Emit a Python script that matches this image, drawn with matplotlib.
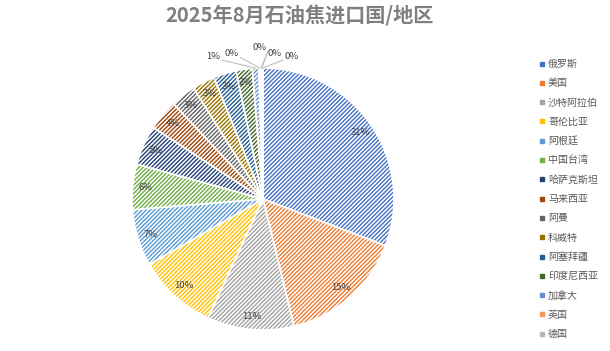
import matplotlib
matplotlib.use('Agg')
import matplotlib.pyplot as plt
from matplotlib.lines import Line2D
import numpy as np

plt.rcParams['font.family'] = ['Noto Sans CJK SC', 'DejaVu Sans']
plt.rcParams['hatch.linewidth'] = 1.1

title = '2025年8月石油焦进口国/地区'
categories = ['俄罗斯', '美国', '沙特阿拉伯', '哥伦比亚', '阿根廷', '中国台湾', '哈萨克斯坦',
              '马来西亚', '阿曼', '科威特', '阿塞拜疆', '印度尼西亚', '加拿大', '英国', '德国',
              '其他1', '其他2']
values = [30.8, 15.4, 10.7, 9.8, 7.0, 5.6, 4.9, 3.8, 3.1, 2.8, 2.8, 2.0, 0.8, 0.2, 0.1, 0.1, 0.1]
colors = ['#4472C4', '#ED7D31', '#A5A5A5', '#FFC000', '#5B9BD5', '#70AD47', '#264478',
          '#9E480E', '#636363', '#997300', '#255E91', '#43682B', '#698ED0', '#F1975A',
          '#B7B7B7', '#FFCD33', '#7CAFDD']
n_legend = 15

W, H, DPI = 610, 351, 100
cx, cy, R = 263, 199, 131  # pixel layout

fig = plt.figure(figsize=(W / DPI, H / DPI), dpi=DPI)
ax = fig.add_axes([0, 0, 1, 1])
ax.axis('off')

wedges, _ = ax.pie(values, colors=colors, startangle=90, counterclock=False,
                   radius=1.0, wedgeprops=dict(edgecolor='white', linewidth=1.2))
for w in wedges:
    w.set_hatch('////////')
ax.set_xlim(-cx / R, (W - cx) / R)
ax.set_ylim(-(H - cy) / R, cy / R)

total = sum(values)
pcts = [v / total * 100 for v in values]
small_label_xy = [(-0.38, 1.09), (-0.24, 1.11), (-0.03, 1.16), (0.09, 1.11), (0.22, 1.09)]
small_i = 0
lab_color = '#404040'
for w, p in zip(wedges, pcts):
    ang = np.deg2rad((w.theta1 + w.theta2) / 2)
    txt = f'{p:.0f}%'
    if p >= 1.5:
        r = 0.9
        ax.text(r * np.cos(ang), r * np.sin(ang), txt, ha='center', va='center',
                fontsize=6.8, color=lab_color)
    else:
        lx, ly = small_label_xy[small_i]
        small_i += 1
        ax.text(lx, ly, txt, ha='center', va='center', fontsize=6.8, color=lab_color)
        px, py = np.cos(ang) * 1.0, np.sin(ang) * 1.0
        sx = lx + (0.07 if lx < px else -0.07)
        ax.plot([sx, px], [ly - 0.03, py], color='#BFBFBF', lw=0.8, clip_on=False)

fig.text(299 / W, 1 - 16 / H, title, ha='center', va='center', fontsize=14.5,
         fontweight='bold', color='#7F7F7F')

handles = [Line2D([], [], marker='s', linestyle='none', markersize=3, color=c)
           for c in colors[:n_legend]]
leg = fig.legend(handles, categories[:n_legend], loc='upper left',
                 bbox_to_anchor=(539 / W, 1 - 59 / H), frameon=False,
                 fontsize=7.2, labelspacing=0.93, handlelength=0.6,
                 handletextpad=0.3, borderaxespad=0, borderpad=0)
for t in leg.get_texts():
    t.set_color('#595959')

fig.savefig('out.png', dpi=DPI)
